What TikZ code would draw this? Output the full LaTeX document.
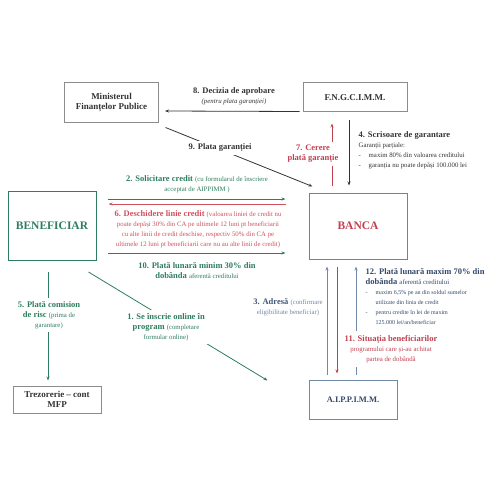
\documentclass[tikz,border=0pt]{standalone}
\usepackage{fontspec}
\setmainfont{Liberation Serif}
\usetikzlibrary{arrows.meta}
\definecolor{credgreen}{HTML}{2E7D5E}
\definecolor{bancared}{HTML}{C0404E}
\definecolor{linkred}{HTML}{D0505C}
\definecolor{aipblue}{HTML}{6F88A6}
\definecolor{aipnavy}{HTML}{34496B}
\definecolor{boxgray}{HTML}{8C8C8C}
\definecolor{txtgray}{HTML}{333333}
\newcommand{\lblfont}{\fontsize{8.5}{10}\selectfont\bfseries}
\newcommand{\smallt}{\fontsize{6.8}{8.5}\selectfont\mdseries}
\newcommand{\tinyt}{\fontsize{6}{7}\selectfont\mdseries}
\newcommand{\dashitem}{\makebox[10pt][l]{-}}

\begin{document}
\begin{tikzpicture}[x=1pt,y=-1pt,
  box/.style={draw, line width=1pt, align=center, inner sep=2pt},
  lbl/.style={align=center, inner sep=1.5pt, font=\lblfont},
  arr/.style={-{Stealth[length=4pt,width=3pt]}, line width=0.8pt},
]
\useasboundingbox (0,0) rectangle (500,500);
% --- institutions ---
\node[box, draw=boxgray, text=txtgray, minimum width=94pt, minimum height=39pt,
  font=\fontsize{9}{10.5}\selectfont\bfseries] (mfp) at (111.5,102.5) {Ministerul\\Finanțelor Publice};
\node[box, draw=boxgray, text=txtgray, minimum width=104pt, minimum height=29pt,
  font=\fontsize{9}{10.5}\selectfont\bfseries] (fng) at (355,97.5) {F.N.G.C.I.M.M.};
\node[box, draw=credgreen, text=credgreen, minimum width=88pt, minimum height=69pt,
  font=\fontsize{11.5}{13}\selectfont\bfseries] (benef) at (52,226) {BENEFICIAR};
\node[box, draw=bancared!85, text=bancared, minimum width=98pt, minimum height=66pt,
  font=\fontsize{11.5}{13}\selectfont\bfseries] (banca) at (358,226) {BANCA};
\node[box, draw=boxgray, text=txtgray, minimum width=88pt, minimum height=27pt,
  font=\fontsize{9}{10}\selectfont\bfseries] (trez) at (57,399.5) {Trezorerie -- cont\\MFP};
\node[box, draw=aipblue, text=aipnavy, minimum width=88pt, minimum height=39pt,
  font=\fontsize{8.5}{10}\selectfont\bfseries] (aip) at (353,399.5) {A.I.P.P.I.M.M.};
% --- guarantee flows ---
\draw[arr, txtgray] ([xshift=-3pt,yshift=1pt]fng.south west) -- ([xshift=6pt,yshift=-8.5pt]mfp.east);
\draw[arr, txtgray] ([xshift=6.5pt,yshift=-5pt]mfp.south east) -- ([xshift=4pt,yshift=6pt]banca.north west);
\draw[arr, bancared] ([xshift=-26pt,yshift=7pt]banca.north) -- ([xshift=-23pt,yshift=-11pt]fng.south);
\draw[arr, txtgray] ([xshift=-6pt,yshift=-7pt]fng.south) -- ([xshift=-9pt,yshift=7pt]banca.north);
% --- beneficiar / banca ---
\draw[arr, credgreen] ([xshift=11pt,yshift=27pt]benef.east) -- ([xshift=-23pt,yshift=27pt]banca.west);
\draw[arr, linkred] ([xshift=-23pt,yshift=22pt]banca.west) -- ([xshift=12pt,yshift=22pt]benef.east);
\draw[arr, credgreen] ([xshift=11pt,yshift=-27pt]benef.east) -- ([xshift=-23pt,yshift=-27pt]banca.west);
% --- beneficiar down ---
\draw[arr, credgreen] ([xshift=-4pt,yshift=-11pt]benef.south) -- ([xshift=-9pt,yshift=5pt]trez.north);
\draw[arr, credgreen] ([xshift=-8pt,yshift=-11pt]benef.south east) -- ([xshift=-41pt,yshift=19pt]aip.west);
% --- banca / aippimm ---
\draw[arr, aipblue] ([xshift=-26pt,yshift=5pt]aip.north) -- ([xshift=-31pt,yshift=-7pt]banca.south);
\draw[arr, bancared] ([xshift=-21pt,yshift=-7pt]banca.south) -- ([xshift=-16pt,yshift=6pt]aip.north);
\draw[arr, aipblue] ([xshift=3pt,yshift=5pt]aip.north) -- ([xshift=-2pt,yshift=-7pt]banca.south);
% --- labels ---
\node[lbl, text=txtgray] (l8) at (234,96) {8. Decizia de aprobare\\{\smallt\itshape (pentru plata garanției)}};
\node[lbl, text=txtgray, fill=white, inner sep=3pt] (l9) at (220,148) {9. Plata garanției};
\node[lbl, text=bancared, fill=white, inner sep=3pt] (l7) at (313,154) {7. Cerere\\plată garanție};
\node[lbl, text=txtgray, align=left, anchor=north west] (l4) at (357,130)
  {4. Scrisoare de garantare\\{\smallt Garanții parțiale:}\\{\smallt\dashitem maxim 80\% din valoarea creditului}\\{\smallt\dashitem garanția nu poate depăși 100.000 lei}};
\node[lbl, text=credgreen] (l2) at (197,184) {2. Solicitare credit {\smallt (cu formularul de înscriere}\\{\smallt acceptat de AIPPIMM )}};
\node[lbl, text=linkred] (l6) at (198,229) {6. Deschidere linie credit {\smallt (valoarea liniei de credit nu}\\{\smallt poate depăși 30\% din CA pe ultimele 12 luni pt beneficiarii}\\{\smallt cu alte linii de credit deschise, respectiv 50\% din CA pe}\\{\smallt ultimele 12 luni pt beneficiarii care nu au alte linii de credit)}};
\node[lbl, text=credgreen] (l10) at (197,271) {10. Plată lunară minim 30\% din\\dobânda {\smallt aferentă creditului}};
\node[lbl, text=credgreen, fill=white, inner sep=3pt] (l5) at (49,315) {5. Plată comision\\de risc {\smallt (prima de}\\{\smallt garantare)}};
\node[lbl, text=credgreen, fill=white, inner sep=3pt] (l1) at (166,327) {1. Se înscrie online în\\program {\smallt (completare}\\{\smallt formular online)}};
\node[lbl, text=aipblue] (l3) at (288,307) {{\color{aipnavy!80!aipblue}3. Adresă} {\smallt (confirmare}\\{\smallt eligibilitate beneficiar)}};
\node[lbl, text=bancared, fill=white, inner sep=4pt] (l11) at (391,349) {11. Situația beneficiarilor\\{\smallt programului care și-au achitat}\\{\smallt partea de dobândă}};
\node[lbl, text=aipnavy, align=left, anchor=north west] (l12) at (364,267)
  {12. Plată lunară maxim 70\% din\\dobânda {\smallt aferentă creditului}\\{\tinyt\dashitem maxim 6,5\% pe an din soldul sumelor}\\{\tinyt\hspace*{10pt}utilizate din linia de credit}\\{\tinyt\dashitem pentru credite în lei de maxim}\\{\tinyt\hspace*{10pt}125.000 lei/an/beneficiar}};
\end{tikzpicture}
\end{document}
